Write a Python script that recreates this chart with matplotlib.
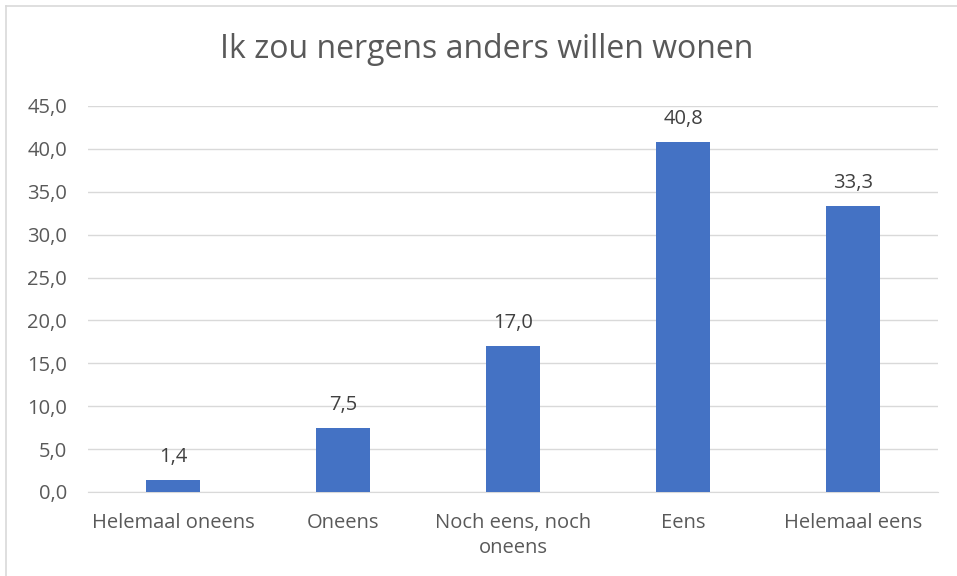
import matplotlib.pyplot as plt
from matplotlib.lines import Line2D

# categories and percentages
categories = ["Helemaal oneens", "Oneens", "Noch eens, noch\noneens", "Eens", "Helemaal eens"]
values = [1.4, 7.5, 17.0, 40.8, 33.3]
yticks = [0, 5, 10, 15, 20, 25, 30, 35, 40, 45]

txt = "#595959"
plt.rcParams['font.family'] = ['Open Sans', 'DejaVu Sans']

fig = plt.figure(figsize=(9.57, 5.76), dpi=100)
ax = fig.add_axes([88/957, 1 - 492/576, 850/957, 386/576])

x = range(len(categories))
ax.bar(x, values, width=0.32, color="#4472C4", zorder=3)
for xi, v in zip(x, values):
    ax.text(xi, v + 1.5, f"{v:.1f}".replace(".", ","), ha="center", va="bottom",
            fontsize=14.5, color="#404040")

ax.set_xlim(-0.5, len(categories) - 0.5)
ax.set_ylim(0, 45)
ax.set_yticks(yticks)
ax.set_yticklabels([f"{t:.1f}".replace(".", ",") for t in yticks], fontsize=14.5, color=txt)
ax.set_xticks(list(x))
ax.set_xticklabels(categories, fontsize=14.5, color=txt, linespacing=1.35)
ax.tick_params(length=0)
ax.tick_params(axis="x", pad=15)
ax.tick_params(axis="y", pad=15)
ax.grid(axis="y", color="#D9D9D9", linewidth=1, zorder=0)
for s in ["top", "right", "left"]:
    ax.spines[s].set_visible(False)
ax.spines["bottom"].set_color("#D9D9D9")

fig.text(487/957, 1 - 50/576, "Ik zou nergens anders willen wonen", ha="center", va="center",
         fontsize=23, color=txt)

# chart border (only top and left are visible in the crop)
fig.add_artist(Line2D([6/957, 1], [1 - 6/576, 1 - 6/576], color="#D9D9D9", linewidth=1.2))
fig.add_artist(Line2D([6/957, 6/957], [0, 1 - 6/576], color="#D9D9D9", linewidth=1.2))

fig.savefig("out.png", dpi=100)
